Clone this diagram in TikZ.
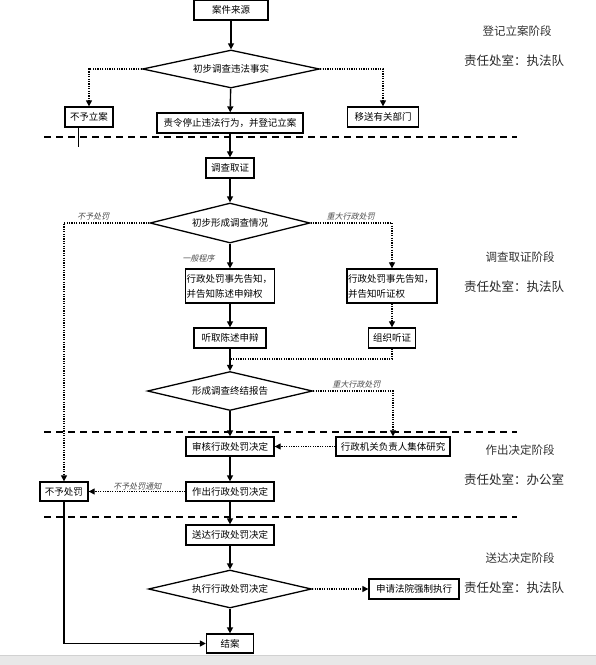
\documentclass[tikz,border=0pt]{standalone}
\usepackage{fontspec}
\setmainfont{Noto Sans CJK SC}
\newfontfamily\slantcjk[FakeSlant=0.25]{Noto Sans CJK SC}
\usepackage{tikz}
\usepackage{xcolor}
\usetikzlibrary{positioning,shapes.geometric,arrows.meta}

\begin{document}
\begin{tikzpicture}[
					x=1pt, y=-1pt,
					stepbox/.style={rectangle, draw=black, line width=1.3pt, fill=white,
						inner sep=1pt, align=center, font=\fontsize{9.5}{15}\selectfont},
					check/.style={diamond, draw=black, line width=1.3pt, fill=white, aspect=4.5,
						inner sep=0pt, font=\fontsize{9.5}{12}\selectfont},
					flow/.style={-{Triangle[length=6pt,width=6pt]}, line width=1.4pt},
					dotflow/.style={-{Triangle[length=6pt,width=6pt]}, line width=1.2pt,
						dash pattern=on 1.2pt off 1.2pt},
					dotline/.style={line width=1.2pt, dash pattern=on 1.2pt off 1.2pt},
					stageline/.style={line width=1.3pt, dash pattern=on 7pt off 5pt},
					branch/.style={font=\slantcjk\fontsize{8}{9}\selectfont, text=black!70, inner sep=1pt},
					stage/.style={font=\fontsize{11.5}{14}\selectfont, text=black!80},
					office/.style={font=\fontsize{12.5}{14}\selectfont, text=black!85}
					]
					\useasboundingbox (0,0) rectangle (596,665);
					\fill[black!9] (0,655) rectangle (596,665);
					\draw[black!18, line width=0.8pt] (0,655) -- (596,655);
					% phase separators
					\foreach \y in {137,432,517}
						\draw[stageline] (44,\y) -- (517,\y);
					% registration
					\node[stepbox, minimum width=74pt, minimum height=20pt] (source) at (231,10) {案件来源};
					\node[check, minimum width=177pt, minimum height=38pt] (prelim) at (231,69) {初步调查违法事实};
					\node[stepbox, minimum width=48pt, minimum height=20pt] (reject) at (89,117) {不予立案};
					\node[stepbox, minimum width=71pt, minimum height=20pt] (transfer) at (383,117) {移送有关部门};
					\node[stepbox, minimum width=146pt, minimum height=20pt] (register) at (230,123) {责令停止违法行为，并登记立案};
					\coordinate (stub) at (78,147);
					% investigation
					\node[stepbox, minimum width=48pt, minimum height=20pt] (evidence) at (230,168) {调查取证};
					\node[check, minimum width=160pt, minimum height=40pt] (situation) at (230,223) {初步形成调查情况};
					\node[stepbox, text width=87pt, align=left, minimum height=34pt] (notice) at (230,286) {行政处罚事先告知，\\并告知陈述申辩权};
					\node[stepbox, text width=88pt, align=left, minimum height=34pt] (hearnotice) at (392,286) {行政处罚事先告知，\\并告知听证权};
					\node[stepbox, minimum width=72pt, minimum height=20pt] (defence) at (230,338) {听取陈述申辩};
					\node[stepbox, minimum width=47pt, minimum height=20pt] (hearing) at (392,338) {组织听证};
					\coordinate (merge) at (230,359);
					\node[check, minimum width=165pt, minimum height=39pt] (report) at (230,391) {形成调查终结报告};
					% decision
					\node[stepbox, minimum width=88pt, minimum height=19pt] (review) at (230,446.5) {审核行政处罚决定};
					\node[stepbox, minimum width=114pt, minimum height=19pt] (collective) at (393,446.5) {行政机关负责人集体研究};
					\node[stepbox, minimum width=88pt, minimum height=19pt] (decide) at (230,491.5) {作出行政处罚决定};
					\node[stepbox, minimum width=48pt, minimum height=19pt] (nopenalty) at (64,491.5) {不予处罚};
					% delivery
					\node[stepbox, minimum width=88pt, minimum height=20pt] (deliver) at (230,535) {送达行政处罚决定};
					\node[check, minimum width=163pt, minimum height=38pt] (execute) at (230,589) {执行行政处罚决定};
					\node[stepbox, minimum width=90pt, minimum height=20pt] (court) at (414,589) {申请法院强制执行};
					\node[stepbox, minimum width=47pt, minimum height=19pt] (close) at (230,643.5) {结案};
					% stage texts
					\node[stage] (st1) at (517,31) {登记立案阶段};
					\node[office] (of1) at (514,61) {责任处室：执法队};
					\node[stage] (st2) at (520,257) {调查取证阶段};
					\node[office] (of2) at (514,287) {责任处室：执法队};
					\node[stage] (st3) at (520,450) {作出决定阶段};
					\node[office] (of3) at (514,480) {责任处室：办公室};
					\node[stage] (st4) at (520,558) {送达决定阶段};
					\node[office] (of4) at (514,588) {责任处室：执法队};
					% connectors
					\draw[flow] (source) -- (prelim);
					\draw[dotflow] (prelim.west) -| (reject.north);
					\draw[dotflow] (prelim.east) -| (transfer.north);
					\draw[flow] (prelim) -- (register);
					\draw[line width=1pt] (reject.south -| stub) -- (stub);
					\draw[flow] (register) -- (evidence);
					\draw[flow] (evidence) -- (situation);
					\draw[dotflow] (situation.west) -| node[branch, pos=0.33, above=1pt] {不予处罚} (nopenalty.north);
					\draw[dotflow] (situation.east) -| node[branch, pos=0.245, above=1pt] {重大行政处罚} (hearnotice.north);
					\draw[flow] (situation) -- node[branch, pos=0.6, left=14pt] {一般程序} (notice);
					\draw[flow] (notice) -- (defence);
					\draw[dotflow] (hearnotice) -- (hearing);
					\draw[flow] (defence) -- (report);
					\draw[dotline] (hearing.south) |- (merge);
					\draw[dotflow] (report.east) -| node[branch, pos=0.27, above=1pt] {重大行政处罚} (collective.north);
					\draw[flow] (report) -- (review);
					\draw[dotflow] (collective) -- (review);
					\draw[flow] (review) -- (decide);
					\draw[dotflow] (decide) -- node[branch, above] {不予处罚通知} (nopenalty);
					\draw[flow] (decide) -- (deliver);
					\draw[flow] (deliver) -- (execute);
					\draw[dotflow] (execute) -- (court);
					\draw[flow] (execute) -- (close);
					\draw[flow] (nopenalty.south) |- (close.west);
				\end{tikzpicture}
\end{document}
